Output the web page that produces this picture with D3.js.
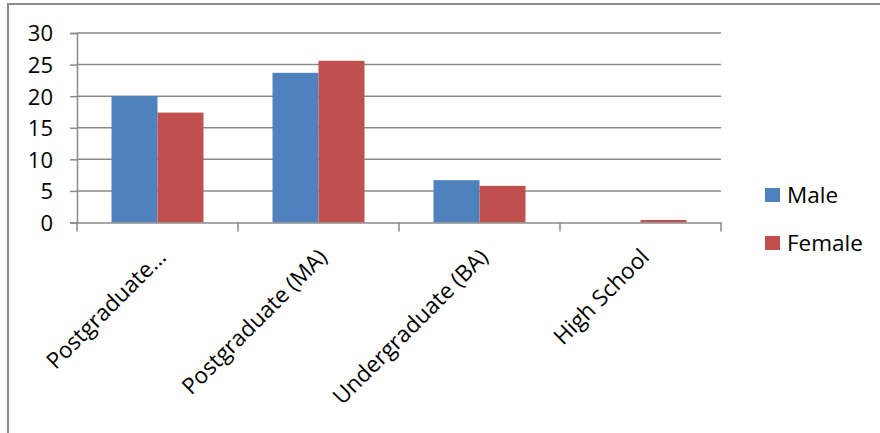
<!DOCTYPE html>
<html>
<head>
<meta charset="utf-8">
<script src="https://cdn.jsdelivr.net/npm/d3@7"></script>
<style>
  html, body { margin: 0; padding: 0; background: #fff; }
  svg text { font-family: "Open Sans", "DejaVu Sans", sans-serif; fill: #000; }
</style>
</head>
<body>
<div id="chart"></div>
<script>
const categories = ["Postgraduate...", "Postgraduate (MA)", "Undergraduate (BA)", "High School"];
const seriesNames = ["Male", "Female"];
const maleValues = [20, 23.7, 6.7, 0];
const femaleValues = [17.4, 25.6, 5.8, 0.4];
const yTicks = [0, 5, 10, 15, 20, 25, 30];
const colors = ["#4F81BD", "#C0504D"];

const W = 880, H = 433;
const plot = { left: 77, right: 721, top: 33, bottom: 222.5 };
const gridColor = "#8a8a8a";

const rows = categories.map((c, i) => ({ cat: c, Male: maleValues[i], Female: femaleValues[i] }));

const svg = d3.select("#chart")
  .append("svg")
  .attr("width", W)
  .attr("height", H)
  .attr("viewBox", `0 0 ${W} ${H}`);

// outer frame (runs off the right and bottom edges)
svg.append("rect")
  .attr("x", 8).attr("y", 4)
  .attr("width", W + 20).attr("height", H + 20)
  .attr("fill", "none")
  .attr("stroke", "#8c8c8c")
  .attr("stroke-width", 2);

const y = d3.scaleLinear().domain([0, 30]).range([plot.bottom, plot.top]);
const x0 = d3.scaleBand().domain(categories).range([plot.left, plot.right]).padding(0);
const x1 = d3.scaleBand().domain(seriesNames).range([0, x0.bandwidth()]).paddingInner(0).paddingOuter(0.75);
const color = d3.scaleOrdinal().domain(seriesNames).range(colors);

// gridlines
svg.append("g")
  .selectAll("line")
  .data(yTicks.filter(t => t > 0))
  .enter()
  .append("line")
  .attr("x1", plot.left).attr("x2", plot.right)
  .attr("y1", d => y(d)).attr("y2", d => y(d))
  .attr("stroke", gridColor)
  .attr("stroke-width", 1.5);

// bars
svg.append("g")
  .selectAll("g")
  .data(rows)
  .enter()
  .append("g")
  .attr("transform", d => `translate(${x0(d.cat)},0)`)
  .selectAll("rect")
  .data(d => seriesNames.map(s => ({ key: s, value: d[s] })))
  .enter()
  .append("rect")
  .attr("x", d => x1(d.key))
  .attr("width", x1.bandwidth())
  .attr("y", d => y(d.value))
  .attr("height", d => y(0) - y(d.value))
  .attr("fill", d => color(d.key));

// y axis
const yAxis = svg.append("g")
  .attr("transform", `translate(${plot.left},0)`)
  .call(d3.axisLeft(y).tickValues(yTicks).tickSize(7).tickPadding(17).tickFormat(d3.format("d")));
yAxis.select(".domain").attr("stroke", gridColor).attr("stroke-width", 1.5);
yAxis.selectAll(".tick line").attr("stroke", gridColor).attr("stroke-width", 1.5);
yAxis.selectAll("text")
  .attr("font-size", 22)
  .attr("dy", "0.36em");

// x axis
const xAxis = svg.append("g")
  .attr("transform", `translate(0,${plot.bottom})`)
  .call(d3.axisBottom(x0).tickSize(0).tickFormat(""));
xAxis.select(".domain").attr("stroke", gridColor).attr("stroke-width", 1.5);
xAxis.selectAll(".tick").remove();

const xTickPos = categories.map(c => x0(c)).concat([x0.range()[1]]);
xAxis.selectAll("line.xt")
  .data(xTickPos)
  .enter()
  .append("line")
  .attr("class", "xt")
  .attr("x1", d => d).attr("x2", d => d)
  .attr("y1", 0).attr("y2", 9)
  .attr("stroke", gridColor)
  .attr("stroke-width", 1.5);

// category labels
svg.append("g")
  .selectAll("text")
  .data(categories)
  .enter()
  .append("text")
  .attr("transform", d => `translate(${x0(d) + x0.bandwidth() / 2 + 10},${plot.bottom + 36}) rotate(-45)`)
  .attr("text-anchor", "end")
  .attr("font-size", 22.5)
  .text(d => d);

// legend
const legend = svg.append("g")
  .selectAll("g")
  .data(seriesNames)
  .enter()
  .append("g")
  .attr("transform", (d, i) => `translate(765,${188 + i * 48})`);

legend.append("rect")
  .attr("width", 15)
  .attr("height", 14)
  .attr("fill", d => color(d));

legend.append("text")
  .attr("x", 22)
  .attr("y", 14.5)
  .attr("font-size", 22.5)
  .text(d => d);
</script>
</body>
</html>
